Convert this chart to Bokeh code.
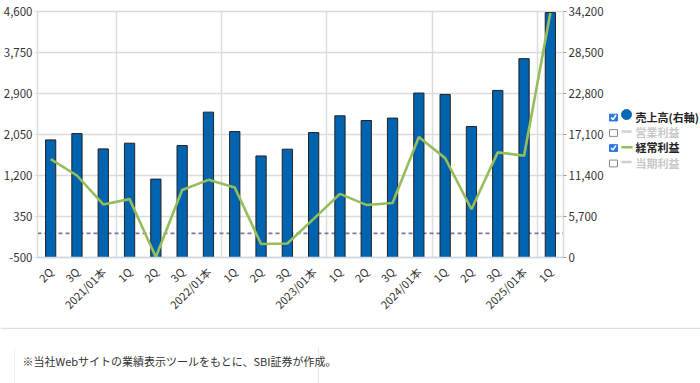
import math
from bokeh.plotting import figure
from bokeh.models import (Range1d, LinearAxis, FixedTicker,
                          NumeralTickFormatter, Span, ColumnDataSource)
from bokeh.layouts import column, row
from bokeh.embed import file_html
from bokeh.resources import INLINE
from bokeh.core.properties import value

# ---------------- data ----------------
period_keys = ["2021/01-2Q", "2021/01-3Q", "2021/01本",
               "2022/01-1Q", "2022/01-2Q", "2022/01-3Q", "2022/01本",
               "2023/01-1Q", "2023/01-2Q", "2023/01-3Q", "2023/01本",
               "2024/01-1Q", "2024/01-2Q", "2024/01-3Q", "2024/01本",
               "2025/01-1Q", "2025/01-2Q", "2025/01-3Q", "2025/01本",
               "2026/01-1Q"]
tick_labels = ["2Q", "3Q", "2021/01本",
               "1Q", "2Q", "3Q", "2022/01本",
               "1Q", "2Q", "3Q", "2023/01本",
               "1Q", "2Q", "3Q", "2024/01本",
               "1Q", "2Q", "3Q", "2025/01本",
               "1Q"]
# 売上高 (right axis)
sales = [16350, 17230, 15100, 15890, 10900, 15560, 20210, 17510, 14120, 15060,
         17370, 19700, 19050, 19380, 22860, 22670, 18210, 23230, 27640, 34050]
# 経常利益 (left axis)
ordinary_profit = [1540, 1200, 600, 710, -490, 900, 1110, 950, -220, -210,
                   300, 820, 590, 630, 2000, 1560, 500, 1680, 1610, 4570]

left_ticks = [-500, 350, 1200, 2050, 2900, 3750, 4600]
right_ticks = [0, 5700, 11400, 17100, 22800, 28500, 34200]
group_boundaries = [3, 7, 11, 15, 19]   # category slots after each 本 period

legend_items = ["売上高(右軸)", "営業利益", "経常利益", "当期利益"]
legend_checked = [True, False, True, False]
footnote = "※当社Webサイトの業績表示ツールをもとに、SBI証券が作成。"

# ---------------- style ----------------
FONT = "Noto Sans CJK JP"
BAR_COLOR = "#0063b0"
LINE_COLOR = "#96bd5b"
GRID = "#dcdcdc"
TXT = "#333333"

n = len(period_keys)
xs = [i + 0.5 for i in range(n)]
src = ColumnDataSource(dict(x=xs, sales=sales, op=ordinary_profit))

p = figure(width=606, height=327, x_range=Range1d(0, n),
           y_range=Range1d(left_ticks[0], left_ticks[-1]),
           output_backend="svg", toolbar_location=None,
           min_border_left=35, min_border_right=37, min_border_top=11,
           min_border_bottom=70)
p.extra_y_ranges = {"right": Range1d(right_ticks[0], right_ticks[-1])}
p.outline_line_color = GRID
p.outline_line_width = 1.5
p.background_fill_color = "white"
p.border_fill_color = "white"

# grids
p.ygrid.ticker = FixedTicker(ticks=left_ticks)
p.ygrid.grid_line_color = GRID
p.ygrid.grid_line_width = 1.5
p.xgrid.ticker = FixedTicker(ticks=group_boundaries)
p.xgrid.grid_line_color = GRID
p.xgrid.grid_line_width = 1.5

# zero reference line
p.add_layout(Span(location=0, dimension="width", line_color="#8472a2",
                  line_width=1.6, line_dash="4 3", level="underlay"))

# bars (right axis)
p.vbar(x="x", top="sales", bottom=0, width=0.39, source=src,
       y_range_name="right", fill_color=BAR_COLOR, line_color="#222222",
       line_width=1)
# line (left axis)
p.line(x="x", y="op", source=src, line_color=LINE_COLOR, line_width=2.6)

# left axis
ya = p.yaxis[0]
ya.ticker = FixedTicker(ticks=left_ticks)
ya.formatter = NumeralTickFormatter(format="0,0")
ya.axis_line_color = GRID
ya.major_tick_line_color = GRID
ya.major_tick_out = 3
ya.major_tick_in = 0
ya.minor_tick_line_color = None
ya.major_label_standoff = 2
ya.major_label_text_font = FONT
ya.major_label_text_font_size = "11.5px"
ya.major_label_text_color = TXT

# right axis
ra = LinearAxis(y_range_name="right", ticker=FixedTicker(ticks=right_ticks),
                formatter=NumeralTickFormatter(format="0,0"))
ra.axis_line_color = GRID
ra.major_tick_line_color = "#999999"
ra.major_tick_out = 3
ra.major_tick_in = 0
ra.minor_tick_line_color = None
ra.major_label_standoff = 2
ra.major_label_text_font = FONT
ra.major_label_text_font_size = "11.5px"
ra.major_label_text_color = TXT
p.add_layout(ra, "right")

# x axis
xa = p.xaxis[0]
xa.ticker = FixedTicker(ticks=xs)
xa.major_label_overrides = {x: lab for x, lab in zip(xs, tick_labels)}
xa.major_label_orientation = math.pi / 4
xa.axis_line_color = "#cfd9e6"
xa.axis_line_width = 1.5
xa.major_tick_line_color = None
xa.minor_tick_line_color = None
xa.major_label_standoff = 6
xa.major_label_text_font = FONT
xa.major_label_text_font_size = "11px"
xa.major_label_text_color = TXT

# ---------------- legend panel ----------------
LW, LH = 94, 327
lg = figure(width=LW, height=LH, x_range=Range1d(0, LW), y_range=Range1d(LH, 0),
            output_backend="svg", toolbar_location=None, min_border=0)
lg.axis.visible = False
lg.grid.visible = False
lg.outline_line_color = None
rows_y = [140, 160.5, 180.5, 201]
box_x = 7
for i, (name, chk) in enumerate(zip(legend_items, legend_checked)):
    y = rows_y[i]
    if chk:
        lg.rect(x=[box_x], y=[y + 1], width=8, height=9, fill_color="#2b78e4",
                line_color="#2b78e4")
        lg.line(x=[box_x - 2.5, box_x - 0.5, box_x + 2.5], y=[y + 1, y + 3.5, y - 2.5],
                line_color="white", line_width=1.6)
        tcol = "#222222"
    else:
        lg.rect(x=[box_x], y=[y + 1], width=8, height=9, fill_color="white",
                line_color="#8a8a8a", line_width=1)
        tcol = "#c8c8c8"
    if i == 0:
        lg.scatter(x=[20], y=[y - 3], size=10, marker="circle",
                   fill_color="#0868b4", line_color="#0868b4")
    elif i == 2:
        lg.line(x=[15, 26], y=[y, y], line_color=LINE_COLOR, line_width=2.5)
    else:
        lg.line(x=[15, 25], y=[y - 1, y - 1], line_color="#cfcfcf", line_width=2.5)
    lg.text(x=[29], y=[y], text=[name], text_font=value(FONT),
            text_font_size="11px", text_font_style="bold", text_color=tcol,
            text_baseline="middle", text_align="left")

# ---------------- footer ----------------
FW, FH = 700, 56
ft = figure(width=FW, height=FH, x_range=Range1d(0, FW), y_range=Range1d(FH, 0),
            output_backend="svg", toolbar_location=None, min_border=0)
ft.axis.visible = False
ft.grid.visible = False
ft.outline_line_color = None
ft.line(x=[0, FW], y=[0.8, 0.8], line_color="#e0e0e0", line_width=1.5)
ft.line(x=[14, 14], y=[21, FH], line_color="#efefef", line_width=1)
ft.line(x=[318, 318], y=[21, FH], line_color="#e6e6e6", line_width=1)
ft.text(x=[22], y=[33], text=[footnote], text_font=value(FONT),
        text_font_size="11px", text_color=TXT, text_baseline="middle",
        text_align="left")

layout = column(row(p, lg, spacing=0), ft, spacing=0)
open("out.html", "w").write(file_html(layout, INLINE))
